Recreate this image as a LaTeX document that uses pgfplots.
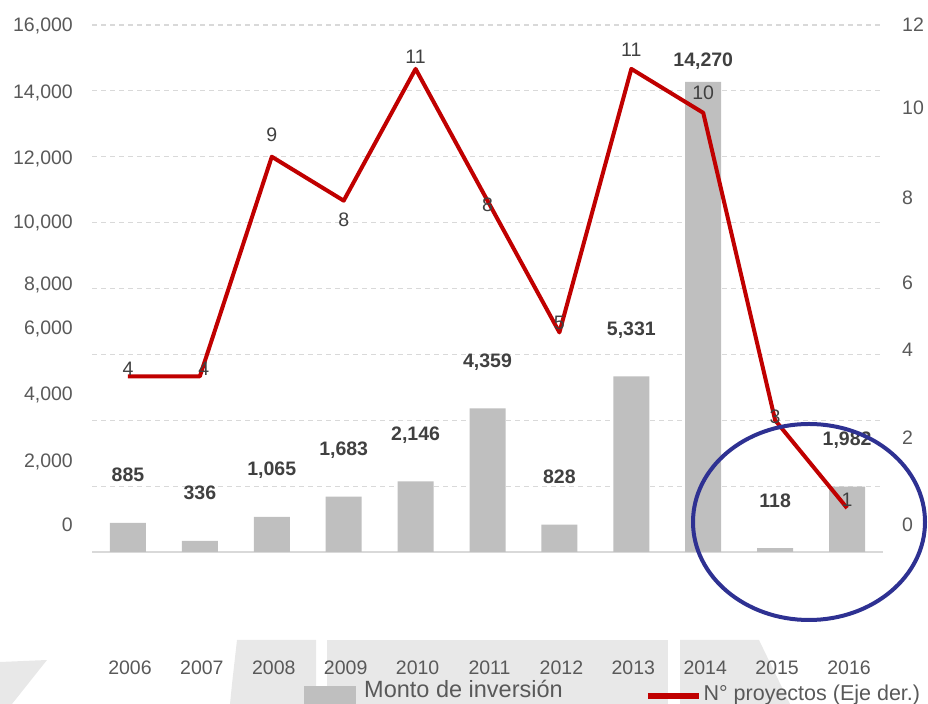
\documentclass[border=0pt]{standalone}
\usepackage{fontspec}
\setmainfont{Liberation Sans}
\usepackage{pgfplots}
\usepackage{pgfplotstable}
\pgfplotsset{compat=1.18}
\definecolor{barGray}{HTML}{BFBFBF}
\definecolor{lineRed}{HTML}{C00000}
\definecolor{tickGray}{HTML}{595959}
\definecolor{labDark}{HTML}{404040}
\definecolor{gridGray}{HTML}{D9D9D9}
\definecolor{ellBlue}{RGB}{46,49,146}
\definecolor{wm}{HTML}{E8E8E8}
\newcommand{\fs}{\fontsize{19.5bp}{23bp}\selectfont}
\newcommand{\lfsa}{\fontsize{23.5bp}{27bp}\selectfont}
\newcommand{\lfsb}{\fontsize{21.5bp}{25bp}\selectfont}

% year index, amount, label shift
\pgfplotstableread{
x y dy lab
0 885 41 885
1 336 41 336
2 1065 41 1,065
3 1683 41 1,683
4 2146 41 2,146
5 4359 41 4,359
6 828 41 828
7 5331 41 5,331
8 14270 15 14,270
9 118 41 118
10 1982 41 1,982
}\bars

\pgfplotstableread{
x y dy dx lab
0 4 1 0 4
1 4 1 4 4
2 9 15 0 9
3 8 -26 0 8
4 11 5 0 11
5 8 -11 0 8
6 5 3 0 5
7 11 12 0 11
8 10 13 0 10
9 3 -3 0 3
10 1 2 0 1
}\proj

\begin{document}
\begin{tikzpicture}[x=1bp,y=1bp]
\useasboundingbox (0,0) rectangle (928,704);
% watermark shapes
\fill[wm] (0,42) -- (47,44) -- (12,0) -- (0,0) -- cycle;
\fill[wm] (237,64) -- (316,64) -- (316,0) -- (230,0) -- (232,20) -- cycle;
\fill[wm] (327,64) rectangle (668,0);
\fill[wm] (680,64) -- (759,64) -- (790,0) -- (680,0) -- cycle;

\begin{axis}[
  at={(92bp,152bp)}, anchor=south west,
  width=791bp, height=527bp, scale only axis,
  xmin=-0.5, xmax=10.5, ymin=0, ymax=16000,
  axis x line*=bottom, axis y line*=left,
  x axis line style={-, draw=gridGray, line width=1.5bp},
  y axis line style={draw=none},
  major tick length=0pt,
  scaled y ticks=false,
  /pgf/number format/assume math mode=true,
  xtick={0,...,10},
  xticklabels={2006,2007,2008,2009,2010,2011,2012,2013,2014,2015,2016},
  xticklabel style={anchor=base, inner sep=0pt, yshift=-123bp, xshift=2bp, font=\fs, text=tickGray},
  ytick={820,2793,4797,6801,8137,10049,11992,13966,16000},
  yticklabels={0,{2,000},{4,000},{6,000},{8,000},{10,000},{12,000},{14,000},{16,000}},
  yticklabel style={anchor=base east, inner sep=0pt, xshift=-19bp, yshift=-7bp, font=\fs, text=tickGray},
  extra y ticks={2000,4000,6000,8000,10000,12000,14000,16000},
  extra y tick labels={},
  extra y tick style={grid=major, major grid style={draw=gridGray, line width=1.2bp, dash pattern=on 5bp off 4bp}},
  legend style={at={(0.268,-0.2676)}, anchor=west, draw=none, fill=none, inner sep=0pt, font=\lfsa, text=tickGray},
  legend image code/.code={\fill[barGray] (0bp,-18bp) rectangle (52bp,4bp); \path (58bp,0bp);},
  clip=false,
]
\addplot[ybar, bar width=36bp, fill=barGray, draw=none,
  nodes near coords, point meta=explicit symbolic,
  visualization depends on={\thisrow{dy} \as \dy},
  every node near coord/.append style={anchor=base, inner sep=0pt, yshift=\dy*1bp, font=\fs\bfseries, text=labDark}]
  table[x=x, y=y, meta=lab] {\bars};
\addlegendentry{Monto de inversión}
\end{axis}

\begin{axis}[
  at={(92bp,152bp)}, anchor=south west,
  width=791bp, height=527bp, scale only axis,
  xmin=-0.5, xmax=10.5, ymin=0, ymax=12,
  axis x line=none, axis y line*=right,
  y axis line style={draw=none},
  major tick length=0pt,
  /pgf/number format/assume math mode=true,
  ytick={0.615,2.60,4.60,6.13,8.08,10.11,12},
  yticklabels={0,2,4,6,8,10,12},
  yticklabel style={anchor=base west, inner sep=0pt, xshift=19bp, yshift=-7bp, font=\fs, text=tickGray},
  legend style={at={(0.699,-0.2676)}, anchor=west, draw=none, fill=none, inner sep=0pt, font=\lfsb, text=tickGray},
  legend image code/.code={\draw[lineRed, line width=5.5bp] (0bp,-3bp) -- (51bp,-3bp);},
  clip=false,
]
\addplot[lineRed, line width=4bp, line join=round, mark=none,
  nodes near coords, point meta=explicit symbolic,
  visualization depends on={\thisrow{dy} \as \dy},
  visualization depends on={\thisrow{dx} \as \dx},
  every node near coord/.append style={anchor=base, inner sep=0pt, yshift=\dy*1bp, xshift=\dx*1bp, font=\fs, text=labDark}]
  table[x=x, y=y, meta=lab] {\proj};
\addlegendentry{N° proyectos (Eje der.)}
\end{axis}

\draw[ellBlue, line width=4bp] (809,182) ellipse (116 and 98);
\end{tikzpicture}
\end{document}
